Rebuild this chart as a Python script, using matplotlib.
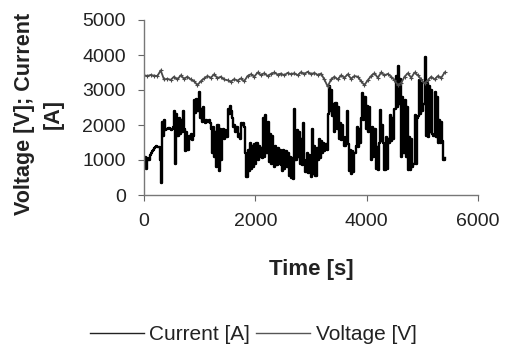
import numpy as np
import matplotlib
matplotlib.use("Agg")
import matplotlib.pyplot as plt

plt.rcParams['font.family'] = ['Liberation Sans', 'DejaVu Sans']

# Current [A], sampled every 20 s from t = 0 s
current = [
    800, 1100, 750, 1050, 1000,
    1150, 1200, 1250, 1300, 1350,
    1380, 1400, 1380,
    1380, 1000, 340,
    2100, 1700, 2150,
    1850, 1900, 1880, 1920, 1900, 1860, 1900, 1940,
    2400, 900, 2300,
    1700, 2200, 1750, 2150, 1800,
    2400, 1900,
    1250, 1800, 1300,
    1700, 1600, 1750, 1580, 1700,
    2700, 2350, 2750, 2400,
    2950, 2200,
    2450, 2100, 2500, 2150, 2050,
    2140, 2100, 2150, 2050,
    1900, 1200, 1950, 1100, 1800,
    800, 2000, 700, 1900, 1000, 1700,
    1900, 1600, 1850, 1650,
    2450, 2300, 2550, 2400, 2200,
    1950, 2000, 1800, 1950, 1650,
    1750, 1600,
    2050, 2000, 2050, 1950,
    1200, 520, 1300,
    700, 1500, 750, 1400, 800, 1450, 900, 1500,
    1000, 1400, 1100, 1350, 1050,
    2200, 1100, 2280, 1200, 2100,
    950, 1750, 900, 1700, 1000,
    800, 1400, 850, 1350, 900, 1300, 850,
    700, 1300, 750, 1250, 800, 1200,
    550, 1100, 500, 1050, 450,
    2450,
    1000, 1850, 1100, 1800,
    900, 1600, 850, 2050, 1000,
    650, 1200, 620, 1150, 700,
    520, 1900, 600, 1400, 550, 1350,
    1000, 1600, 1050, 1550,
    1200, 1480, 1250, 1450, 1300,
    2300, 3100, 2400, 3000, 2250,
    2600, 1800, 2630, 1900, 2500,
    1600, 2050, 1570, 2000, 1650,
    1400, 1670, 2400, 1450,
    700, 1290, 600, 1250, 650, 1200,
    1400, 1950, 1380, 1900, 1500,
    2200, 2900, 2150, 2800,
    1900, 2550, 1800, 2500, 1850,
    1000, 1950, 1100, 1900,
    750, 1380, 710,
    1500, 2430, 1550, 2000, 1490,
    710, 1660, 750, 1600,
    1500, 2280, 1550, 2200, 1600,
    2450, 3400, 2500, 3700, 2600, 3300,
    1100, 2800, 1200, 2700, 1090, 2500,
    720, 1660, 710, 1600, 800,
    900, 2280, 880, 2200,
    2250, 3290, 2300, 3200, 2400,
    2600, 3950,
    1700, 3200, 1660, 3100, 1800, 3000, 1750,
    1700, 2950, 1660, 2800,
    1500, 2140, 1490, 2100, 1550,
    1000, 1050,
]
current_dt = 20

# Voltage [V], sampled every 60 s from t = 0 s
voltage = [
    3420, 3400, 3430, 3410, 3400,
    3560,
    3300, 3320, 3290,
    3380, 3300, 3420, 3320, 3380, 3300,
    3250, 3140, 3250,
    3330, 3400, 3350, 3450, 3340, 3380, 3300,
    3280, 3240, 3310, 3270, 3330, 3250,
    3400, 3450, 3380, 3500, 3430, 3480, 3400, 3460, 3500, 3440, 3470, 3420, 3490, 3450,
    3480, 3420, 3510, 3460, 3520, 3450, 3490, 3430, 3470,
    3300, 3100, 3300,
    3380, 3300, 3420, 3350, 3450, 3320, 3400, 3380,
    3250, 3140, 3280,
    3400, 3480, 3350, 3500, 3420, 3460, 3380,
    3280, 3140, 3200, 3380,
    3480, 3350, 3500, 3420,
    3300, 3190, 3280,
    3380, 3300, 3400, 3350, 3500,
]
voltage_dt = 60

xticks = [0, 2000, 4000, 6000]
yticks = [0, 1000, 2000, 3000, 4000, 5000]

t_cur = np.arange(len(current)) * current_dt
t_vol = np.arange(len(voltage)) * voltage_dt

W, H = 506, 347
fig = plt.figure(figsize=(W / 100, H / 100), dpi=100)
ax = fig.add_axes([144 / W, 1 - 195 / H, (478 - 144) / W, (195 - 20) / H])

ax.plot(t_cur, current, color='#000000', lw=1.7, drawstyle='steps-post', label='Current [A]')
ax.plot(t_vol, voltage, color='#4a4a4a', lw=1.3, marker='+', ms=3, mew=0.8, label='Voltage [V]')

ax.set_xlim(0, 6000)
ax.set_ylim(0, 5000)
ax.set_xticks(xticks)
ax.set_yticks(yticks)
ax.tick_params(direction='out', length=4, width=0.8, color='#666666',
               labelsize=14, labelcolor='#222222', pad=9)
for s in ['top', 'right']:
    ax.spines[s].set_visible(False)
for s in ['left', 'bottom']:
    ax.spines[s].set_color('#777777')
    ax.spines[s].set_linestyle((0, (1, 1)))
    ax.spines[s].set_linewidth(1.0)

fig.text(39 / W, 1 - 114 / H, 'Voltage [V]; Current\n[A]', rotation=90,
         ha='center', va='center', fontsize=15.5, fontweight='bold',
         linespacing=1.45, color='#222222')
fig.text(311 / W, 1 - 269 / H, 'Time [s]', ha='center', va='center',
         fontsize=16, fontweight='bold', color='#222222')

labels = ['Current [A]', 'Voltage [V]']
handles = [plt.Line2D([], [], color='#222222', lw=1.0),
           plt.Line2D([], [], color='#555555', lw=1.0)]
fig.legend(handles, labels, loc='center', bbox_to_anchor=(253 / W, 1 - 335 / H),
           ncol=2, frameon=False, fontsize=15, handlelength=2.6,
           handletextpad=0.25, columnspacing=0.3, labelcolor='#222222')

fig.savefig('out.png', dpi=100)
